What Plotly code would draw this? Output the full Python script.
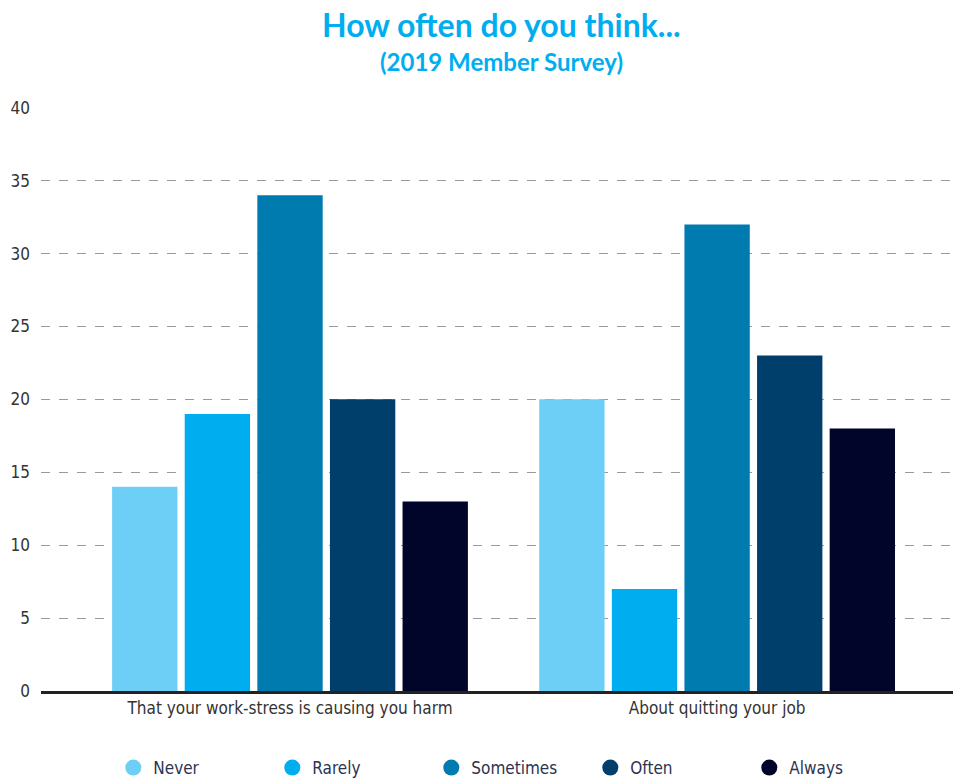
import plotly.graph_objects as go

categories = ["That your work-stress is causing you harm", "About quitting your job"]
series_names = ["Never", "Rarely", "Sometimes", "Often", "Always"]
never = [14, 20]
rarely = [19, 7]
sometimes = [34, 32]
often = [20, 23]
always = [13, 18]
series_values = [never, rarely, sometimes, often, always]
colors = ["#6dcff6", "#00aeef", "#007bb0", "#003f6c", "#000529"]
y_ticks = [0, 5, 10, 15, 20, 25, 30, 35, 40]

cond = "DejaVu Sans Condensed, Liberation Sans Narrow, Roboto, sans-serif"
tick_font = dict(family=cond, size=17, color="#333333")
legend_font = dict(family=cond, size=17, color="#2b3352")

fig = go.Figure()
for name, vals, c in zip(series_names, series_values, colors):
    fig.add_trace(go.Bar(x=categories, y=vals, name=name, showlegend=False,
                         marker=dict(color=c, line=dict(width=0))))
for name, c in zip(series_names, colors):
    fig.add_trace(go.Scatter(x=[None], y=[None], mode="markers", name=name,
                             marker=dict(color=c, size=18, symbol="circle"), showlegend=True))

fig.add_annotation(text="<b>How often do you think...</b>", xref="paper", yref="paper",
                   x=0.5, y=1 + (99 - 16) / 584, xanchor="center", yanchor="middle", showarrow=False,
                   borderpad=0,
                   font=dict(family="Lato, sans-serif", size=32, color="#00aeef"))
fig.add_annotation(text="<b>(2019 Member Survey)</b>", xref="paper", yref="paper",
                   x=0.5, y=1 + (99 - 53) / 584, xanchor="center", yanchor="middle", showarrow=False,
                   borderpad=0,
                   font=dict(family="Lato, sans-serif", size=24, color="#00aeef"))

fig.update_layout(
    width=953, height=774,
    margin=dict(l=33, r=0, t=99, b=91, autoexpand=False),
    paper_bgcolor="white", plot_bgcolor="white",
    barmode="group", bargap=0.15, bargroupgap=0.1,
    showlegend=True,
    legend=dict(orientation="h", x=0.0786, xanchor="left", y=-0.101, yanchor="top",
                font=legend_font, itemwidth=30, entrywidth=114, traceorder="normal"),
    xaxis=dict(range=[-0.583, 1.571], showline=True, linecolor="#222222", linewidth=2.5,
               tickfont=tick_font, showgrid=False, ticks="", fixedrange=True),
    yaxis=dict(range=[0, 40.05], tickvals=y_ticks, showgrid=True, gridcolor="#9a9a9a",
               griddash="dash", gridwidth=1.2, zeroline=False, tickfont=tick_font,
               ticks="", ticklabelstandoff=10, fixedrange=True),
)
fig.write_html("out.html")
